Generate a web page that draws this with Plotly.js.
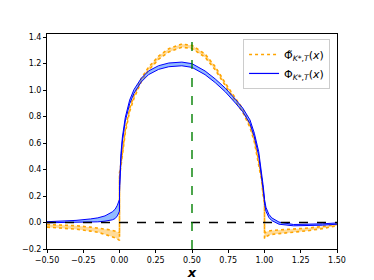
<!DOCTYPE html>
<html>
<head>
<meta charset="utf-8">
<script src="https://cdn.plot.ly/plotly-3.0.1.min.js"></script>
<style>html,body{margin:0;padding:0;background:#fff;}#chart{width:374px;height:280px;}</style>
</head>
<body>
<div id="chart"></div>
<script>
// shared x grid (0 and 1 repeated for the jumps)
const xs = [-0.5,-0.4,-0.3,-0.2,-0.15,-0.1,-0.07,-0.05,-0.03,-0.015,0,0,
  0.01,0.02,0.04,0.07,0.1,0.15,0.2,0.27,0.34,0.43,0.5,
  0.59,0.66,0.73,0.8,0.85,0.9,0.93,0.96,0.98,0.99,1.0,1.0,
  1.01,1.03,1.05,1.1,1.2,1.3,1.4,1.5];

// Phi tilde (orange, dotted) mean and band half-width
const tildeMean = [-0.025,-0.03,-0.037,-0.05,-0.057,-0.07,-0.077,-0.083,-0.09,-0.097,-0.105,0.36,
  0.43,0.52,0.69,0.85,0.95,1.075,1.16,1.245,1.30,1.335,1.325,
  1.26,1.165,1.04,0.925,0.845,0.73,0.62,0.45,0.33,0.22,0.15,-0.1,
  -0.09,-0.08,-0.075,-0.07,-0.062,-0.052,-0.038,-0.018];
const tildeErr = [0.01,0.011,0.013,0.015,0.017,0.02,0.022,0.024,0.026,0.028,0.03,0.015,
  0.012,0.012,0.012,0.012,0.012,0.012,0.012,0.012,0.012,0.012,0.012,
  0.012,0.012,0.012,0.012,0.012,0.012,0.012,0.012,0.012,0.012,0.015,0.02,
  0.018,0.016,0.015,0.014,0.012,0.01,0.008,0.006];

// Phi (blue, solid) mean and band half-width
const phiMean = [0.002,0.004,0.008,0.015,0.02,0.03,0.04,0.05,0.065,0.09,0.13,0.25,
  0.5,0.63,0.78,0.91,0.99,1.075,1.13,1.17,1.19,1.197,1.185,
  1.13,1.07,1.0,0.915,0.85,0.76,0.66,0.52,0.37,0.27,0.17,0.16,
  0.1,0.05,0.025,-0.005,-0.02,-0.02,-0.015,-0.008];
const phiErr = [0.004,0.005,0.008,0.012,0.015,0.02,0.025,0.03,0.035,0.04,0.045,0.03,
  0.02,0.015,0.014,0.014,0.014,0.014,0.014,0.014,0.014,0.014,0.014,
  0.014,0.014,0.014,0.014,0.014,0.014,0.014,0.015,0.015,0.015,0.015,0.015,
  0.015,0.012,0.01,0.008,0.005,0.005,0.005,0.005];

const xTicks = [-0.5,-0.25,0,0.25,0.5,0.75,1.0,1.25,1.5];
const yTicks = [-0.2,0,0.2,0.4,0.6,0.8,1.0,1.2,1.4];
const vLineX = 0.5;
const hLineY = 0;

const lo = (m,e) => m.map((v,i)=>v-e[i]);
const hi = (m,e) => m.map((v,i)=>v+e[i]);

const ORANGE = '#FFA500', BLUE = '#0000FF';
const tildeName = 'Φ̃<sub><i>K</i>*,<i>T</i></sub>(<i>x</i>)';
const phiName = 'Φ<sub><i>K</i>*,<i>T</i></sub>(<i>x</i>)';

const traces = [
  {x: xs, y: lo(tildeMean,tildeErr), mode:'lines', line:{color:ORANGE,width:1.6,dash:'dot'}, showlegend:false},
  {x: xs, y: hi(tildeMean,tildeErr), mode:'lines', fill:'tonexty', fillcolor:'rgba(255,165,0,0.4)',
   line:{color:ORANGE,width:1.6,dash:'dot'}, showlegend:false},
  {x: xs, y: lo(phiMean,phiErr), mode:'lines', line:{color:BLUE,width:1}, showlegend:false},
  {x: xs, y: hi(phiMean,phiErr), mode:'lines', fill:'tonexty', fillcolor:'rgba(40,120,255,0.5)',
   line:{color:BLUE,width:1}, showlegend:false},
  // legend entries
  {x:[null], y:[null], mode:'lines', line:{color:ORANGE,width:1.6,dash:'dot'}, name:tildeName},
  {x:[null], y:[null], mode:'lines', line:{color:BLUE,width:1.2}, name:phiName}
];

const layout = {
  width:374, height:280,
  margin:{l:47, r:37, t:34, b:31},
  paper_bgcolor:'#fff', plot_bgcolor:'#fff',
  font:{family:'DejaVu Sans', size:8, color:'#000'},
  showlegend:true,
  legend:{x:0.976, y:0.977, xanchor:'right', yanchor:'top', bgcolor:'rgba(255,255,255,0.8)',
    bordercolor:'#cccccc', borderwidth:1, font:{family:'DejaVu Sans', size:11}, traceorder:'normal'},
  xaxis:{range:[-0.5,1.5], tickvals:xTicks, tickformat:'.2f', ticks:'outside', ticklen:3, tickcolor:'#000',
    showline:true, linecolor:'#000', linewidth:1, mirror:true, showgrid:false, zeroline:false,
    title:{text:'<i><b>x</b></i>', font:{size:13}, standoff:2}},
  yaxis:{range:[-0.2,1.423], tickvals:yTicks, tickformat:'.1f', ticks:'outside', ticklen:3, tickcolor:'#000',
    showline:true, linecolor:'#000', linewidth:1, mirror:true, showgrid:false, zeroline:false},
  shapes:[
    {type:'line', xref:'paper', x0:0, x1:1, yref:'y', y0:hLineY, y1:hLineY, line:{color:'#000', width:1.4, dash:'dash'}, layer:'above'},
    {type:'line', xref:'x', x0:vLineX, x1:vLineX, yref:'paper', y0:0, y1:1, line:{color:'#008000', width:1.4, dash:'dash'}, layer:'above'}
  ]
};

Plotly.newPlot('chart', traces, layout, {staticPlot:true});
</script>
</body>
</html>
